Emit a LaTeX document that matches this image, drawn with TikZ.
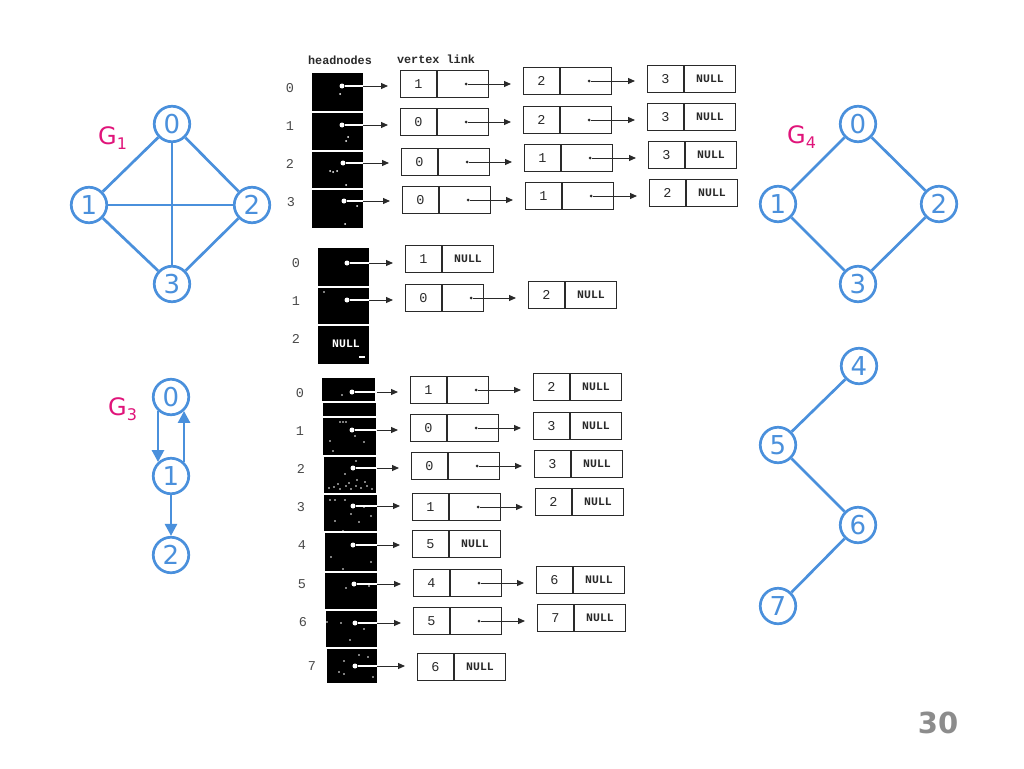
\documentclass[tikz,border=0pt]{standalone}
\usepackage{fontspec}
\setmainfont{DejaVu Sans}
\newfontfamily\scanfont{Liberation Mono}
\usetikzlibrary{arrows.meta,calc}
\definecolor{gblue}{HTML}{4A90DC}
\definecolor{gmag}{HTML}{E0147A}
\definecolor{ink}{HTML}{2A2A2A}
\definecolor{pgnum}{HTML}{8C8C8C}
\tikzset{
  gv/.style={circle, draw=gblue, line width=2.7pt, minimum size=35.5pt, inner sep=0pt, text=gblue, font=\fontsize{26}{26}\selectfont},
  ge/.style={draw=gblue, line width=2.7pt},
  garr/.style={draw=gblue, line width=2.7pt, -{Triangle[length=12pt,width=12pt]}},
  glab/.style={text=gmag, inner sep=0pt, anchor=base west, font=\fontsize{24}{24}\selectfont},
  vcell/.style={draw=ink, line width=1pt, anchor=north west, minimum width=36pt, minimum height=27pt, inner sep=0pt, text=ink, font=\scanfont\fontsize{13.5}{14}\selectfont},
  pcell/.style={draw=ink, line width=1pt, anchor=north west, minimum width=51pt, minimum height=27pt, inner sep=0pt, text=ink, font=\scanfont\bfseries\fontsize{11.5}{12}\selectfont},
  sdot/.style={circle, fill=ink, inner sep=0pt, minimum size=3pt},
  hdot/.style={circle, fill=white, inner sep=0pt, minimum size=5pt},
  sarr/.style={draw=ink, line width=1pt, shorten >=12pt, -{Triangle[length=7pt,width=6pt]}},
  hline/.style={draw=white, line width=1.2pt},
  rlab/.style={text=ink!85, font=\scanfont\fontsize{13.5}{14}\selectfont},
  hdr/.style={text=ink, font=\scanfont\bfseries\fontsize{11.8}{12}\selectfont},
  speck/.style={fill=white}
}
\newcommand{\pbx}[5]{%
  \node[vcell] (#1) at (#2,#3) {#4};
  \node[pcell, minimum width=#5pt] (#1p) at (#1.north east) {};
  \node[sdot] (#1d) at ([xshift=29pt]#1p.west) {};
}
\newcommand{\nbx}[4]{%
  \node[vcell] (#1) at (#2,#3) {#4};
  \node[pcell] (#1p) at (#1.north east) {NULL};
}
\newcommand{\lnk}[2]{\draw[sarr] (#1) -- (#1 -| #2.west);}
\newcommand{\hlnk}[3]{\draw[sarr] (#1) -- (#1 -| #2.west); \draw[hline] (#1) -- (#1 -| #3);}
\begin{document}
\begin{tikzpicture}[x=1pt,y=-1pt]
\useasboundingbox (0,0) rectangle (1024,768);
\fill[white] (0,0) rectangle (1024,768);

% ---------------- G1 ----------------
\node[gv] (a0) at (172,124) {0};
\node[gv] (a1) at (89,205) {1};
\node[gv] (a2) at (252,205) {2};
\node[gv] (a3) at (172,284) {3};
\draw[ge] (a0) -- (a1);
\draw[ge] (a0) -- (a2);
\draw[ge] (a0) -- (a3);
\draw[ge] (a1) -- (a2);
\draw[ge] (a1) -- (a3);
\draw[ge] (a2) -- (a3);
\node[glab] (l1) at (98,144) {G\raisebox{-5pt}{\fontsize{16}{16}\selectfont 1}};

% ---------------- G3 ----------------
\node[gv] (c0) at (171,397) {0};
\node[gv] (c1) at (171,476) {1};
\node[gv] (c2) at (171,555) {2};
\draw[garr] (c0.-133) -- (c1.133);
\draw[garr] (c1.47) -- (c0.-47);
\draw[garr] (c1) -- (c2);
\node[glab] (l3) at (108,415) {G\raisebox{-5pt}{\fontsize{16}{16}\selectfont 3}};

% ---------------- G4 ----------------
\node[gv] (d0) at (858,124) {0};
\node[gv] (d1) at (778,204) {1};
\node[gv] (d2) at (939,204) {2};
\node[gv] (d3) at (858,284) {3};
\draw[ge] (d0) -- (d1);
\draw[ge] (d0) -- (d2);
\draw[ge] (d1) -- (d3);
\draw[ge] (d2) -- (d3);
\node[glab] (l4) at (787,143) {G\raisebox{-5pt}{\fontsize{16}{16}\selectfont 4}};

% ---------------- tree 4-7 ----------------
\node[gv] (e4) at (859,366) {4};
\node[gv] (e5) at (778,445) {5};
\node[gv] (e6) at (858,525) {6};
\node[gv] (e7) at (778,606) {7};
\draw[ge] (e4) -- (e5);
\draw[ge] (e5) -- (e6);
\draw[ge] (e6) -- (e7);

% ---------------- page number ----------------
\node[text=pgnum, font=\bfseries\fontsize{29}{29}\selectfont, inner sep=0pt] (pg) at (938,723) {30};

% ================= scanned adjacency lists =================
% ---- top (G1) ----
\node[hdr] (hh) at (340,60) {headnodes};
\node[hdr] (hv) at (436,59) {vertex link};
\fill[black] (312,73) rectangle (363,111);
\fill[black] (312,113) rectangle (363,150);
\fill[black] (312,152) rectangle (363,188);
\fill[black] (312,190) rectangle (363,228);
\path (363,0) coordinate (tedge);
\foreach \p in {(340,94),(348,137),(346,141),(330,171),(333,172),(337,171),(346,185),(357,206),(345,224)} \fill[speck] \p circle (1pt);
\node[rlab] (tr0) at (290,88) {0};
\node[rlab] (tr1) at (290,126) {1};
\node[rlab] (tr2) at (290,164) {2};
\node[rlab] (tr3) at (291,202) {3};
\node[hdot] (th0) at (342,86) {};
\node[hdot] (th1) at (342,125) {};
\node[hdot] (th2) at (343,163) {};
\node[hdot] (th3) at (344,201) {};
\pbx{t00}{400}{70}{1}{51}
\pbx{t01}{523}{67}{2}{51}
\nbx{t02}{647}{65}{3}
\pbx{t10}{400}{108}{0}{51}
\pbx{t11}{523}{106}{2}{51}
\nbx{t12}{647}{103}{3}
\pbx{t20}{401}{148}{0}{51}
\pbx{t21}{524}{144}{1}{51}
\nbx{t22}{648}{141}{3}
\pbx{t30}{402}{186}{0}{51}
\pbx{t31}{525}{182}{1}{51}
\nbx{t32}{649}{179}{2}
\hlnk{th0}{t00}{tedge}
\hlnk{th1}{t10}{tedge}
\hlnk{th2}{t20}{tedge}
\hlnk{th3}{t30}{tedge}
\lnk{t00d}{t01} \lnk{t01d}{t02}
\lnk{t10d}{t11} \lnk{t11d}{t12}
\lnk{t20d}{t21} \lnk{t21d}{t22}
\lnk{t30d}{t31} \lnk{t31d}{t32}

% ---- middle (G3) ----
\fill[black] (318,248) rectangle (369,286);
\fill[black] (318,288) rectangle (369,324);
\fill[black] (318,326) rectangle (369,364);
\path (369,0) coordinate (medge);
\fill[speck] (324,292) circle (0.8pt);
\fill[speck] (359,356) rectangle (365,358);
\node[rlab] (mr0) at (296,263) {0};
\node[rlab] (mr1) at (296,301) {1};
\node[rlab] (mr2) at (296,339) {2};
\node[text=white, font=\scanfont\bfseries\fontsize{11.5}{12}\selectfont] (mnull) at (346,344) {NULL};
\node[hdot] (mh0) at (347,263) {};
\node[hdot] (mh1) at (347,300) {};
\nbx{m00}{405}{245}{1}
\pbx{m10}{405}{284}{0}{41}
\nbx{m11}{528}{281}{2}
\hlnk{mh0}{m00}{medge}
\hlnk{mh1}{m10}{medge}
\lnk{m10d}{m11}

% ---- bottom (G4 and tree) ----
\fill[black] (322,378) rectangle (375,401);
\fill[black] (323,403) rectangle (376,416);
\fill[black] (323,418) rectangle (376,455);
\fill[black] (324,457) rectangle (376,493);
\fill[black] (324,495) rectangle (377,531);
\fill[black] (325,533) rectangle (377,571);
\fill[black] (325,573) rectangle (377,609);
\fill[black] (326,611) rectangle (377,647);
\fill[black] (327,649) rectangle (377,683);
\path (377,0) coordinate (bedge);
\foreach \p in {(342,395),(340,422),(343,422),(346,422),(355,436),(364,442),(330,441),(333,451),(356,461),(345,474),(357,480),(365,482),(329,488),(334,487),(340,489),(346,486),(351,489),(356,486),(361,488),(367,486),(372,489),(349,483),(338,484),(330,500),(335,500),(345,500),(364,507),(351,514),(359,522),(335,521),(343,531),(371,516),(331,557),(371,562),(343,569),(346,588),(369,586),(341,623),(364,629),(350,640),(359,655),(368,657),(344,661),(339,672),(344,674),(373,677),(327,622)} \fill[speck] \p circle (0.9pt);
\node[rlab] (br0) at (300,393) {0};
\node[rlab] (br1) at (300,431) {1};
\node[rlab] (br2) at (301,469) {2};
\node[rlab] (br3) at (301,507) {3};
\node[rlab] (br4) at (302,545) {4};
\node[rlab] (br5) at (302,584) {5};
\node[rlab] (br6) at (303,622) {6};
\node[rlab] (br7) at (312,666) {7};
\node[hdot] (bh0) at (352,392) {};
\node[hdot] (bh1) at (352,430) {};
\node[hdot] (bh2) at (353,468) {};
\node[hdot] (bh3) at (353,506) {};
\node[hdot] (bh4) at (353,545) {};
\node[hdot] (bh5) at (354,584) {};
\node[hdot] (bh6) at (355,623) {};
\node[hdot] (bh7) at (355,666) {};
\pbx{b00}{410}{376}{1}{41}
\nbx{b01}{533}{373}{2}
\pbx{b10}{410}{414}{0}{51}
\nbx{b11}{533}{412}{3}
\pbx{b20}{411}{452}{0}{51}
\nbx{b21}{534}{450}{3}
\pbx{b30}{412}{493}{1}{51}
\nbx{b31}{535}{488}{2}
\nbx{b40}{412}{530}{5}
\pbx{b50}{413}{569}{4}{51}
\nbx{b51}{536}{566}{6}
\pbx{b60}{413}{607}{5}{51}
\nbx{b61}{537}{604}{7}
\nbx{b70}{417}{653}{6}
\hlnk{bh0}{b00}{bedge}
\hlnk{bh1}{b10}{bedge}
\hlnk{bh2}{b20}{bedge}
\hlnk{bh3}{b30}{bedge}
\hlnk{bh4}{b40}{bedge}
\hlnk{bh5}{b50}{bedge}
\hlnk{bh6}{b60}{bedge}
\hlnk{bh7}{b70}{bedge}
\lnk{b00d}{b01}
\lnk{b10d}{b11}
\lnk{b20d}{b21}
\lnk{b30d}{b31}
\lnk{b50d}{b51}
\lnk{b60d}{b61}
\end{tikzpicture}
\end{document}
